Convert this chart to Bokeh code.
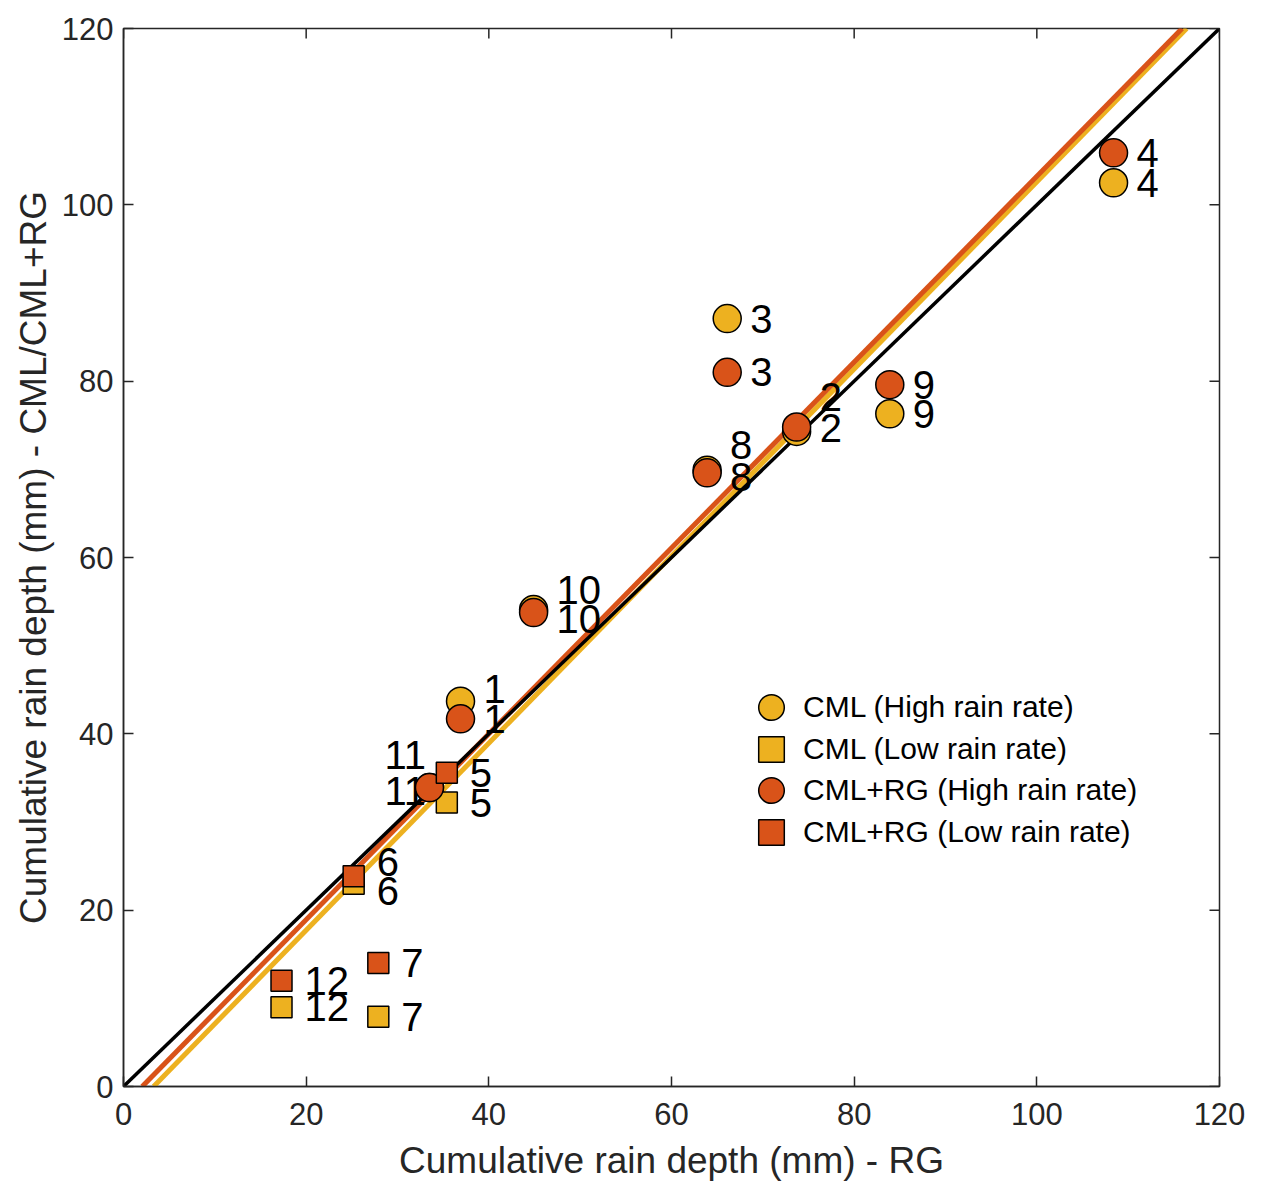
from bokeh.plotting import figure
from bokeh.models import ColumnDataSource, FixedTicker, Slope, Legend, LegendItem
from bokeh.core.properties import value
from bokeh.embed import file_html
from bokeh.resources import INLINE

# event ids and cumulative depths (mm)
ids_high = [1, 2, 3, 4, 8, 9, 10, 11]
rg_high = [36.9, 73.7, 66.1, 108.4, 63.9, 83.9, 44.9, 33.5]
cml_high = [43.7, 74.3, 87.1, 102.5, 69.9, 76.3, 54.1, 33.9]
cmlrg_high = [41.7, 74.8, 81.0, 105.9, 69.6, 79.6, 53.75, 33.9]

ids_low = [5, 6, 7, 12]
rg_low = [35.4, 25.2, 27.9, 17.3]
cml_low = [32.2, 23.0, 7.9, 9.0]
cmlrg_low = [35.6, 23.85, 14.0, 12.0]

# linear fits: (gradient, intercept)
fit_cml = (1.061, -3.5)
fit_cmlrg = (1.054, -2.16)

ticks = [0, 20, 40, 60, 80, 100, 120]
legend_labels = ["CML (High rain rate)", "CML (Low rain rate)",
                 "CML+RG (High rain rate)", "CML+RG (Low rain rate)"]

YELLOW = "#EDB120"
ORANGE = "#D95319"
FONT = "Liberation Sans"
AXC = "#262626"

# label nudges in screen px (to keep overlapping labels readable)
cml_dy = {1: -12, 2: -3, 6: 7, 8: -25, 10: -20, 11: -33}
cmlrg_dy = {2: -30, 6: -14, 8: 4, 10: 6, 11: 3}
left_labels = [11]


def labels(ids, xs, ys, dy):
    return ColumnDataSource(dict(
        x=xs, y=ys, text=[str(i) for i in ids],
        xo=[-45 if i in left_labels else 23 for i in ids],
        yo=[dy.get(i, 0) for i in ids],
    ))


p = figure(width=1258, height=1193, x_range=(0, 120), y_range=(0, 120),
           output_backend="svg", toolbar_location=None,
           min_border_left=123, min_border_right=39, min_border_top=28,
           min_border_bottom=107)
p.grid.visible = False
p.outline_line_color = AXC
p.outline_line_width = 1.5

p.xaxis.axis_label = "Cumulative rain depth (mm) - RG"
p.yaxis.axis_label = "Cumulative rain depth (mm) - CML/CML+RG"
for ax in [p.xaxis[0], p.yaxis[0]]:
    ax.ticker = FixedTicker(ticks=ticks)
    ax.major_tick_in = 10
    ax.major_tick_out = 0
    ax.minor_tick_line_color = None
    ax.axis_line_color = AXC
    ax.axis_line_width = 1.5
    ax.major_tick_line_color = AXC
    ax.major_tick_line_width = 1.5
    ax.major_label_text_font = FONT
    ax.major_label_text_font_size = "31px"
    ax.major_label_text_color = AXC
    ax.axis_label_text_font = FONT
    ax.axis_label_text_font_size = "37px"
    ax.axis_label_text_font_style = "normal"
    ax.axis_label_text_color = AXC
p.yaxis.major_label_standoff = 10
p.yaxis.axis_label_standoff = 5
p.xaxis.major_label_standoff = 16
p.xaxis.axis_label_standoff = 12

# inward ticks on the top and right edges of the box
p.ray(x=ticks, y=[120] * len(ticks), length=10, length_units="screen",
      angle=-90, angle_units="deg", line_color=AXC, line_width=1.5)
p.ray(x=[120] * len(ticks), y=ticks, length=10, length_units="screen",
      angle=180, angle_units="deg", line_color=AXC, line_width=1.5)

# fit lines and 1:1 line
p.add_layout(Slope(gradient=fit_cml[0], y_intercept=fit_cml[1], line_color=YELLOW,
                   line_width=5, level="underlay"))
p.add_layout(Slope(gradient=fit_cmlrg[0], y_intercept=fit_cmlrg[1], line_color=ORANGE,
                   line_width=5, level="underlay"))
p.add_layout(Slope(gradient=1, y_intercept=0, line_color="black", line_width=3.5,
                   level="underlay"))

# point labels
for src in [labels(ids_high, rg_high, cml_high, cml_dy),
            labels(ids_low, rg_low, cml_low, cml_dy),
            labels(ids_high, rg_high, cmlrg_high, cmlrg_dy),
            labels(ids_low, rg_low, cmlrg_low, cmlrg_dy)]:
    p.text(x="x", y="y", text="text", source=src, x_offset="xo", y_offset="yo",
           text_font=value(FONT), text_font_size="40px", text_color="black",
           text_align="left", text_baseline="middle")

r1 = p.scatter(rg_high, cml_high, marker="circle", size=28, fill_color=YELLOW,
               line_color="black", line_width=1.5)
r2 = p.scatter(rg_low, cml_low, marker="square", size=21, fill_color=YELLOW,
               line_color="black", line_width=1.5)
r3 = p.scatter(rg_high, cmlrg_high, marker="circle", size=28, fill_color=ORANGE,
               line_color="black", line_width=1.5)
r4 = p.scatter(rg_low, cmlrg_low, marker="square", size=21, fill_color=ORANGE,
               line_color="black", line_width=1.5)

# one legend per entry so the rows can sit closer than the glyph box
for k, (lab, r) in enumerate(zip(legend_labels, [r1, r2, r3, r4])):
    p.add_layout(Legend(
        items=[LegendItem(label=lab, renderers=[r])],
        location=(616, 347 - 41.5 * k), glyph_width=64, glyph_height=64,
        label_standoff=0, padding=0, margin=0, border_line_alpha=0,
        background_fill_alpha=0, label_text_font=FONT,
        label_text_font_size="30px", label_text_color="black"))

open("out.html", "w").write(file_html(p, INLINE))
